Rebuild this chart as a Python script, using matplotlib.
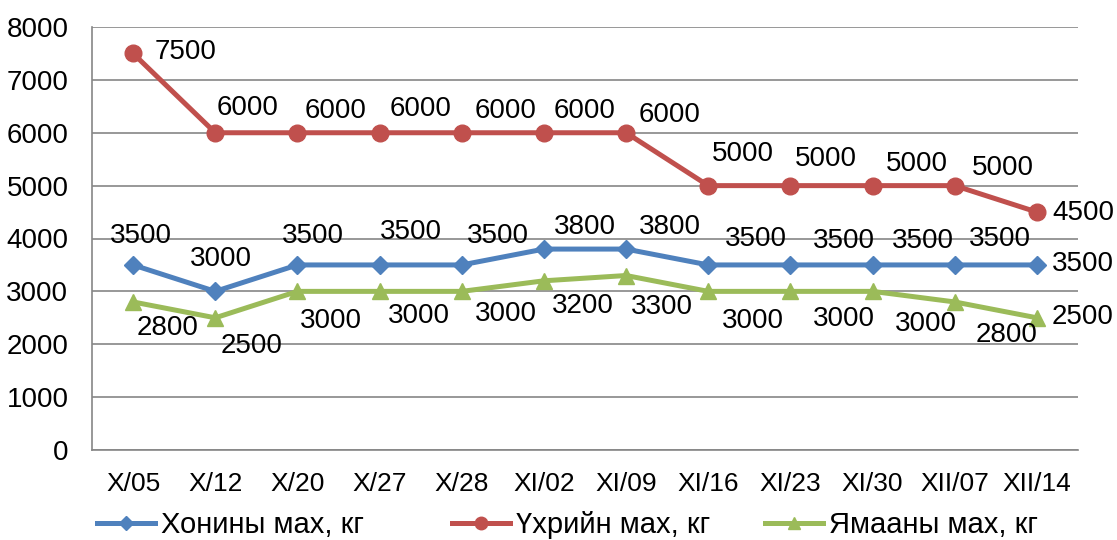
import matplotlib
matplotlib.use("Agg")
import matplotlib.pyplot as plt
from matplotlib.lines import Line2D

plt.rcParams['font.family'] = ['Liberation Sans', 'DejaVu Sans']

categories = ["X/05", "X/12", "X/20", "X/27", "X/28", "XI/02", "XI/09",
              "XI/16", "XI/23", "XI/30", "XII/07", "XII/14"]
sheep = [3500, 3000, 3500, 3500, 3500, 3800, 3800, 3500, 3500, 3500, 3500, 3500]
beef = [7500, 6000, 6000, 6000, 6000, 6000, 6000, 5000, 5000, 5000, 5000, 4500]
goat = [2800, 2500, 3000, 3000, 3000, 3200, 3300, 3000, 3000, 3000, 2800, 2500]
series_names = ["Хонины мах, кг", "Үхрийн мах, кг", "Ямааны мах, кг"]
y_ticks = [0, 1000, 2000, 3000, 4000, 5000, 6000, 7000, 8000]

# label offsets (pixels, dx right, dy up)
beef_off = [(52, 1), (32, 25), (38, 22), (41, 24), (44, 22), (41, 22), (43, 18),
            (35, 32), (35, 27), (44, 22), (48, 18), (46, -1)]
sheep_off = [(8, 29), (6, 32), (15, 29), (31, 33), (36, 29), (41, 22), (44, 22),
             (48, 26), (53, 24), (50, 24), (45, 26), (46, 1)]
goat_off = [(34, -26), (36, -28), (33, -30), (39, -25), (44, -23), (39, -25), (36, -31),
            (45, -30), (53, -28), (53, -33), (52, -33), (46, 1)]

c_blue = "#4F81BD"
c_red = "#C0504D"
c_green = "#9BBB59"
grid_c = "#868686"
fs = 20

fig = plt.figure(figsize=(11.17, 5.40), dpi=100)
ax = fig.add_axes([92 / 1117, 1 - 450 / 540, (1078 - 92) / 1117, 423 / 540])

x = list(range(len(categories)))
styles = [
    (sheep, c_blue, "D", 9, sheep_off),
    (beef, c_red, "o", 12, beef_off),
    (goat, c_green, "^", 12, goat_off),
]
handles = []
for (vals, col, mk, ms, offs), name in zip(styles, series_names):
    h, = ax.plot(x, vals, color=col, lw=3.6, marker=mk, markersize=ms,
                 markeredgecolor=col, markerfacecolor=col, zorder=3, label=name,
                 clip_on=False)
    handles.append(h)
    for xi, v, (dx, dy) in zip(x, vals, offs):
        ax.annotate(str(v), (xi, v), xytext=(dx, dy), textcoords='offset pixels',
                    ha='center', va='center', fontsize=fs, color='black', zorder=4,
                    annotation_clip=False)

ax.set_xlim(-0.5, len(categories) - 0.5)
ax.set_ylim(0, 8000)
ax.set_yticks(y_ticks)
ax.set_yticklabels([str(t) for t in y_ticks], fontsize=fs)
ax.set_xticks(x)
ax.set_xticklabels(categories, fontsize=19)
ax.tick_params(axis='both', length=0)
ax.tick_params(axis='y', pad=17)
ax.tick_params(axis='x', pad=16)
ax.yaxis.grid(True, color=grid_c, lw=1.2)
ax.set_axisbelow(True)
for s in ['top', 'right']:
    ax.spines[s].set_visible(False)
for s in ['left', 'bottom']:
    ax.spines[s].set_color(grid_c)
    ax.spines[s].set_linewidth(1.2)

legend_x = [97, 452, 765]
for h, lx in zip(handles, legend_x):
    proxy = Line2D([0], [0], color=h.get_color(), lw=3.6, marker=h.get_marker(),
                   markersize=h.get_markersize() * 0.75, markerfacecolor=h.get_color(),
                   markeredgecolor=h.get_color())
    fig.legend(handles=[proxy], labels=[h.get_label()], loc='center left',
               bbox_to_anchor=(lx / 1117, 1 - 525 / 540), frameon=False,
               fontsize=21, handlelength=2.0, handletextpad=0.2,
               borderpad=0, borderaxespad=0)

fig.savefig("out.png", dpi=100)
